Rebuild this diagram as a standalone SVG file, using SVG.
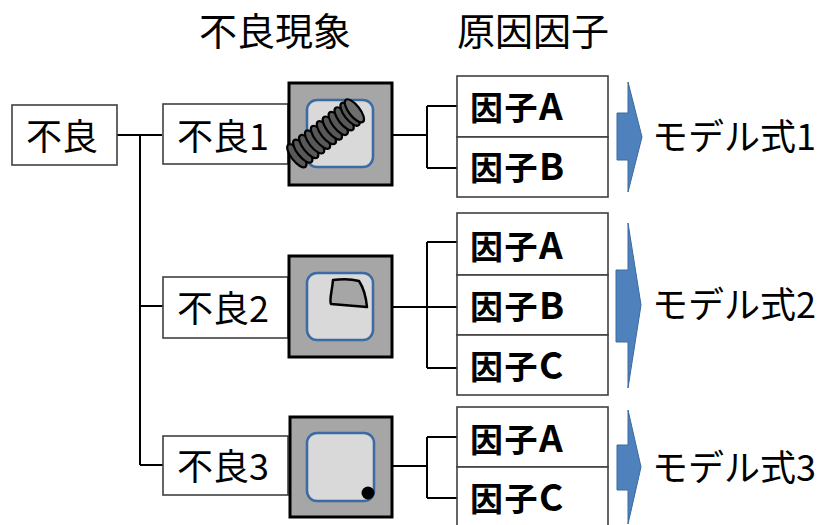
<svg xmlns="http://www.w3.org/2000/svg" width="828" height="525" viewBox="0 0 828 525">
  <style>
    text { font-family: "Noto Sans CJK JP", "Liberation Sans", sans-serif; fill: #000; }
    .hdr { font-size: 38px; }
    .lbl { font-size: 36px; }
    .fac { font-size: 33px; font-weight: bold; letter-spacing: 1.5px; }
    .fac tspan { font-size: 37px; }
    .box { fill: #fff; stroke: #404040; stroke-width: 1.6; }
    .frame { fill: #a6a6a6; stroke: #000; stroke-width: 3; }
    .inner { fill: #d9d9d9; stroke: #3c6aa3; stroke-width: 2.5; }
    .wire { fill: none; stroke: #000; stroke-width: 2; }
    .arrow { fill: #4f81bd; stroke: #3a6aa0; stroke-width: 1; }
    .coil { fill: #585858; stroke: #000; stroke-width: 2.2; }
  </style>

  <!-- column headings -->
  <text class="hdr" x="199" y="45">不良現象</text>
  <text class="hdr" x="457" y="45">原因因子</text>

  <!-- connectors -->
  <g id="connectors" class="wire">
    <path d="M117,135 H162"/>
    <path d="M140,135 V465 M140,306 H163 M140,465 H163"/>
    <path d="M392,135 H427 M427,106 V168 M427,106 H457 M427,168 H457"/>
    <path d="M392,307 H457 M427,242 V368 M427,242 H457 M427,368 H457"/>
    <path d="M392,466 H427 M427,437 V498 M427,437 H457 M427,498 H457"/>
  </g>

  <!-- root -->
  <g id="root">
    <rect class="box" x="12" y="105" width="105" height="60"/>
    <text class="lbl" x="26" y="150">不良</text>
  </g>

  <!-- defect labels -->
  <g id="defect1">
    <rect class="box" x="163" y="104" width="125" height="60"/>
    <text class="lbl" x="177" y="150">不良1</text>
  </g>
  <g id="defect2">
    <rect class="box" x="163" y="277" width="125" height="61"/>
    <text class="lbl" x="177" y="322">不良2</text>
  </g>
  <g id="defect3">
    <rect class="box" x="163" y="436" width="125" height="59"/>
    <text class="lbl" x="177" y="480">不良3</text>
  </g>

  <!-- defect images -->
  <g id="image1">
    <rect class="frame" x="289" y="83" width="103" height="102"/>
    <rect class="inner" x="307" y="100" width="66" height="67" rx="10"/>
    <!-- coiled part, drawn as stacked rings along a tilted axis -->
    <g transform="translate(326,133) rotate(-38)">
      <ellipse class="coil" cx="-37" cy="0" rx="5.5" ry="14"/>
      <ellipse class="coil" cx="-29.5" cy="0" rx="5.5" ry="14"/>
      <ellipse class="coil" cx="-22" cy="0" rx="5.5" ry="14"/>
      <ellipse class="coil" cx="-14.5" cy="0" rx="5.5" ry="14"/>
      <ellipse class="coil" cx="-7" cy="0" rx="5.5" ry="14"/>
      <ellipse class="coil" cx="0.5" cy="0" rx="5.5" ry="14"/>
      <ellipse class="coil" cx="8" cy="0" rx="5.5" ry="14"/>
      <ellipse class="coil" cx="15.5" cy="0" rx="5.5" ry="14"/>
      <ellipse class="coil" cx="23" cy="0" rx="5.5" ry="14"/>
      <ellipse class="coil" cx="30.5" cy="0" rx="5.5" ry="14"/>
      <ellipse cx="36" cy="0" rx="5.5" ry="14" fill="#6e6e6e" stroke="#000" stroke-width="2.2"/>
    </g>
  </g>
  <g id="image2">
    <rect class="frame" x="289" y="256" width="103" height="101"/>
    <rect class="inner" x="307" y="273" width="66" height="67" rx="10"/>
    <path d="M333,280 C340,279 352,279 359,281 C363,287 366,297 367,307 C356,306 342,305 331,304 C329,300 332,292 333,280 Z" fill="#a6a6a6" stroke="#000" stroke-width="2.5" stroke-linejoin="round"/>
  </g>
  <g id="image3">
    <rect class="frame" x="290" y="417" width="102" height="100"/>
    <rect class="inner" x="307" y="433" width="67" height="68" rx="10"/>
    <circle cx="368" cy="493" r="6.5" fill="#000"/>
  </g>

  <!-- cause factors -->
  <g id="factors1">
    <rect class="box" x="457" y="76" width="151" height="61"/>
    <rect class="box" x="457" y="137" width="151" height="60"/>
    <text class="fac" x="470" y="120">因子<tspan>A</tspan></text>
    <text class="fac" x="470" y="180">因子<tspan>B</tspan></text>
  </g>
  <g id="factors2">
    <rect class="box" x="457" y="213" width="151" height="62"/>
    <rect class="box" x="457" y="275" width="151" height="60"/>
    <rect class="box" x="457" y="335" width="151" height="60"/>
    <text class="fac" x="470" y="259">因子<tspan>A</tspan></text>
    <text class="fac" x="470" y="319">因子<tspan>B</tspan></text>
    <text class="fac" x="470" y="379">因子<tspan>C</tspan></text>
  </g>
  <g id="factors3">
    <rect class="box" x="457" y="407" width="151" height="60"/>
    <rect class="box" x="457" y="467" width="151" height="62"/>
    <text class="fac" x="470" y="452">因子<tspan>A</tspan></text>
    <text class="fac" x="470" y="511">因子<tspan>C</tspan></text>
  </g>

  <!-- model outputs -->
  <g id="model1">
    <polygon class="arrow" points="617,113 628,113 628,82 642,137 628,192 628,160 617,160"/>
    <text class="lbl" x="652" y="150">モデル式1</text>
  </g>
  <g id="model2">
    <polygon class="arrow" points="616,270 628,270 628,223 641,305 628,388 628,342 616,342"/>
    <text class="lbl" x="652" y="318">モデル式2</text>
  </g>
  <g id="model3">
    <polygon class="arrow" points="617,445 628,445 628,410 641,467 628,524 628,490 617,490"/>
    <text class="lbl" x="652" y="481">モデル式3</text>
  </g>
</svg>
